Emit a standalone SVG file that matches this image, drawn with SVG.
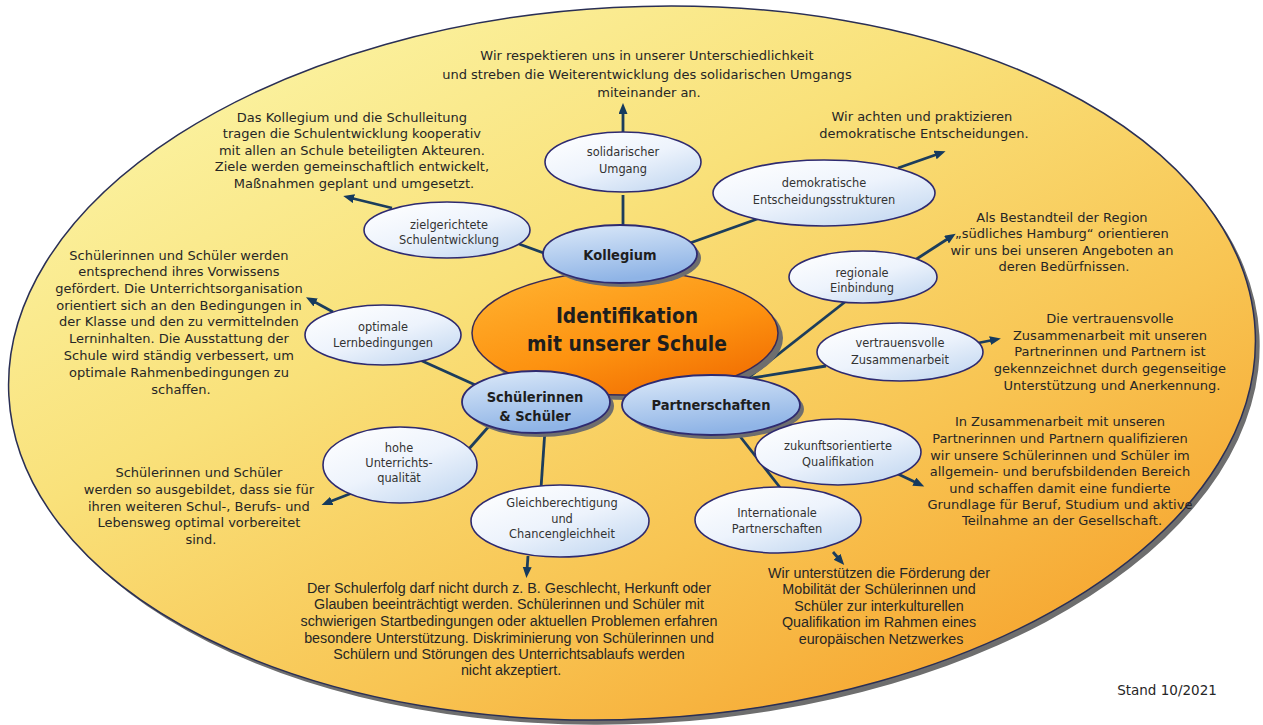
<svg xmlns="http://www.w3.org/2000/svg" width="1263" height="725" viewBox="0 0 1263 725">
  <defs>
    <linearGradient id="gBg" x1="0.15" y1="0.05" x2="0.85" y2="0.95">
      <stop offset="0" stop-color="#FBF3A2"/>
      <stop offset="0.35" stop-color="#F9E17A"/>
      <stop offset="0.7" stop-color="#F8C452"/>
      <stop offset="1" stop-color="#F6A42E"/>
    </linearGradient>
    <linearGradient id="gCore" x1="0.2" y1="0" x2="0.85" y2="1">
      <stop offset="0" stop-color="#FFB02E"/>
      <stop offset="0.55" stop-color="#FD9210"/>
      <stop offset="1" stop-color="#F06A00"/>
    </linearGradient>
    <linearGradient id="gMain" x1="0" y1="0" x2="0.3" y2="1">
      <stop offset="0" stop-color="#DDEAF9"/>
      <stop offset="1" stop-color="#8FB4E6"/>
    </linearGradient>
    <linearGradient id="gSub" x1="0.1" y1="0" x2="0.9" y2="1">
      <stop offset="0" stop-color="#FFFFFF"/>
      <stop offset="0.5" stop-color="#EDF3FC"/>
      <stop offset="1" stop-color="#C0D6F0"/>
    </linearGradient>
    <marker id="arrow" markerUnits="userSpaceOnUse" markerWidth="12" markerHeight="10" refX="3" refY="4.5" orient="auto">
      <path d="M0,0 L11,4.5 L0,9 z" fill="#153A5E"/>
    </marker>
    <style>
      .body { font-family: "DejaVu Sans", sans-serif; font-size: 13px; fill: #262626; text-anchor: middle; }
      .narrow { font-family: "Liberation Sans", Arial, sans-serif; font-size: 15.4px; fill: #262626; text-anchor: middle; }
      .lbl { font-family: "DejaVu Sans", sans-serif; font-size: 11.4px; fill: #333333; text-anchor: middle; }
      .bold { font-family: "DejaVu Sans Condensed", "DejaVu Sans", sans-serif; font-stretch: condensed; font-weight: bold; font-size: 14.5px; fill: #1E1E1E; text-anchor: middle; }
      .title { font-family: "DejaVu Sans Condensed", "DejaVu Sans", sans-serif; font-stretch: condensed; font-weight: bold; font-size: 20.8px; fill: #1E1E1E; text-anchor: middle; }
      .sub { fill: url(#gSub); stroke: #2E2A70; stroke-width: 1.6; }
      .main { fill: url(#gMain); stroke: #2E2A70; stroke-width: 1.8; }
      .shadow { fill: #6E6E6E; }
      .link { stroke: #1C3D5C; stroke-width: 2.8; fill: none; }
      .arr { stroke: #1C3D5C; stroke-width: 2.8; fill: none; marker-end: url(#arrow); }
    </style>
  </defs>

  <!-- backdrop ellipse with drop shadow -->
  <g id="backdrop" transform="rotate(-3 632 363)">
    <ellipse cx="636" cy="368" rx="624" ry="356" class="shadow"/>
    <ellipse cx="632" cy="363" rx="624" ry="356" fill="url(#gBg)" stroke="#2A2F55" stroke-width="1.5"/>
  </g>

  <!-- connectors -->
  <g id="connectors">
    <line class="link" x1="623" y1="195" x2="623" y2="228"/>
    <line class="link" x1="519" y1="244" x2="552" y2="256"/>
    <line class="link" x1="690" y1="243" x2="760" y2="218"/>
    <line class="link" x1="850" y1="298" x2="748" y2="378"/>
    <line class="link" x1="826" y1="366" x2="752" y2="378"/>
    <line class="link" x1="735" y1="430" x2="782" y2="490"/>
    <line class="link" x1="545" y1="430" x2="541" y2="488"/>
    <line class="link" x1="468" y1="450" x2="490" y2="425"/>
    <line class="link" x1="420" y1="360" x2="482" y2="388"/>

    <line class="arr" x1="623" y1="134" x2="623" y2="111"/>
    <line class="arr" x1="392" y1="208" x2="351" y2="198"/>
    <line class="arr" x1="898" y1="168" x2="938" y2="154"/>
    <line class="arr" x1="915" y1="260" x2="949" y2="238"/>
    <line class="arr" x1="978" y1="343" x2="993" y2="340"/>
    <line class="arr" x1="898" y1="474" x2="917" y2="483"/>
    <line class="arr" x1="833" y1="552" x2="839" y2="559"/>
    <line class="arr" x1="528" y1="556" x2="527" y2="570"/>
    <line class="arr" x1="352" y1="493" x2="329" y2="502"/>
    <line class="arr" x1="333" y1="312" x2="313" y2="301"/>
  </g>

  <!-- central node -->
  <g id="core">
    <ellipse cx="630" cy="338" rx="153" ry="62" class="shadow"/>
    <ellipse cx="625" cy="333" rx="153" ry="62" fill="url(#gCore)" stroke="#3A2A55" stroke-width="1.5"/>
    <text class="title"><tspan x="627" y="323">Identifikation</tspan><tspan x="627" y="351">mit unserer Schule</tspan></text>
  </g>

  <!-- primary groups -->
  <g id="kollegium">
    <ellipse cx="624" cy="258" rx="77" ry="29" class="shadow"/>
    <ellipse cx="620" cy="254" rx="77" ry="29" class="main"/>
    <text class="bold" x="620" y="260">Kollegium</text>
  </g>
  <g id="schueler">
    <ellipse cx="540" cy="406" rx="74" ry="31" class="shadow"/>
    <ellipse cx="536" cy="402" rx="74" ry="31" class="main"/>
    <text class="bold"><tspan x="535" y="402">Schülerinnen</tspan><tspan x="535" y="421">&amp; Schüler</tspan></text>
  </g>
  <g id="partner">
    <ellipse cx="715" cy="409" rx="89" ry="30" class="shadow"/>
    <ellipse cx="711" cy="405" rx="89" ry="30" class="main"/>
    <text class="bold" x="711" y="410">Partnerschaften</text>
  </g>

  <!-- secondary topics -->
  <g id="solidarisch">
    <ellipse cx="623" cy="162" rx="78" ry="30" class="sub"/>
    <text class="lbl"><tspan x="623" y="156">solidarischer</tspan><tspan x="623" y="172.5">Umgang</tspan></text>
  </g>
  <g id="zielgerichtet">
    <ellipse cx="447" cy="230" rx="83" ry="28" class="sub"/>
    <text class="lbl"><tspan x="449" y="229">zielgerichtete</tspan><tspan x="449" y="244">Schulentwicklung</tspan></text>
  </g>
  <g id="demokratisch">
    <ellipse cx="824" cy="193" rx="111" ry="33" class="sub"/>
    <text class="lbl"><tspan x="824" y="187">demokratische</tspan><tspan x="824" y="203.5">Entscheidungsstrukturen</tspan></text>
  </g>
  <g id="regional">
    <ellipse cx="863" cy="277" rx="74" ry="26" class="sub"/>
    <text class="lbl"><tspan x="862" y="277">regionale</tspan><tspan x="862" y="291.5">Einbindung</tspan></text>
  </g>
  <g id="vertrauen">
    <ellipse cx="900" cy="352" rx="83" ry="29" class="sub"/>
    <text class="lbl"><tspan x="900" y="347">vertrauensvolle</tspan><tspan x="900" y="363.5">Zusammenarbeit</tspan></text>
  </g>
  <g id="zukunft">
    <ellipse cx="838" cy="452" rx="83" ry="33" class="sub"/>
    <text class="lbl"><tspan x="838" y="450">zukunftsorientierte</tspan><tspan x="838" y="466">Qualifikation</tspan></text>
  </g>
  <g id="international">
    <ellipse cx="778" cy="520" rx="83" ry="33" class="sub"/>
    <text class="lbl"><tspan x="777" y="517">Internationale</tspan><tspan x="777" y="532.5">Partnerschaften</tspan></text>
  </g>
  <g id="gleichberechtigung">
    <ellipse cx="560" cy="521" rx="89" ry="36" class="sub"/>
    <text class="lbl"><tspan x="562" y="507">Gleichberechtigung</tspan><tspan x="562" y="522.5">und</tspan><tspan x="562" y="538">Chancengleichheit</tspan></text>
  </g>
  <g id="unterricht">
    <ellipse cx="400" cy="465" rx="77" ry="38" class="sub"/>
    <text class="lbl"><tspan x="399" y="451.5">hohe</tspan><tspan x="399" y="467">Unterrichts-</tspan><tspan x="399" y="481.5">qualität</tspan></text>
  </g>
  <g id="lernbedingungen">
    <ellipse cx="383" cy="335" rx="78" ry="30" class="sub"/>
    <text class="lbl"><tspan x="383" y="331">optimale</tspan><tspan x="383" y="347">Lernbedingungen</tspan></text>
  </g>

  <!-- explanatory statements -->
  <g id="statements">
    <text class="body">
      <tspan x="649" y="60">Wir respektieren uns in unserer Unterschiedlichkeit</tspan>
      <tspan x="649" y="79">und streben die Weiterentwicklung des solidarischen Umgangs</tspan>
      <tspan x="649" y="97">miteinander an.</tspan>
    </text>
    <text class="body">
      <tspan x="354" y="121.5">Das Kollegium und die Schulleitung</tspan>
      <tspan x="354" y="138">tragen die Schulentwicklung kooperativ</tspan>
      <tspan x="354" y="154.5">mit allen an Schule beteiligten Akteuren.</tspan>
      <tspan x="354" y="171">Ziele werden gemeinschaftlich entwickelt,</tspan>
      <tspan x="354" y="187.5">Maßnahmen geplant und umgesetzt.</tspan>
    </text>
    <text class="body">
      <tspan x="924" y="121">Wir achten und praktizieren</tspan>
      <tspan x="924" y="138">demokratische Entscheidungen.</tspan>
    </text>
    <text class="body">
      <tspan x="1064" y="221.5">Als Bestandteil der Region</tspan>
      <tspan x="1064" y="238">„südliches Hamburg“ orientieren</tspan>
      <tspan x="1064" y="254.5">wir uns bei unseren Angeboten an</tspan>
      <tspan x="1064" y="271">deren Bedürfnissen.</tspan>
    </text>
    <text class="body">
      <tspan x="1112" y="323">Die vertrauensvolle</tspan>
      <tspan x="1112" y="339.5">Zusammenarbeit mit unseren</tspan>
      <tspan x="1112" y="356">Partnerinnen und Partnern ist</tspan>
      <tspan x="1112" y="372.5">gekennzeichnet durch gegenseitige</tspan>
      <tspan x="1112" y="389.5">Unterstützung und Anerkennung.</tspan>
    </text>
    <text class="body">
      <tspan x="1062" y="426">In Zusammenarbeit mit unseren</tspan>
      <tspan x="1062" y="443">Partnerinnen und Partnern qualifizieren</tspan>
      <tspan x="1062" y="459.5">wir unsere Schülerinnen und Schüler im</tspan>
      <tspan x="1062" y="476">allgemein- und berufsbildenden Bereich</tspan>
      <tspan x="1062" y="493">und schaffen damit eine fundierte</tspan>
      <tspan x="1062" y="509">Grundlage für Beruf, Studium und aktive</tspan>
      <tspan x="1062" y="525">Teilnahme an der Gesellschaft.</tspan>
    </text>
    <text class="body">
      <tspan x="181" y="259.5">Schülerinnen und Schüler werden</tspan>
      <tspan x="181" y="276">entsprechend ihres Vorwissens</tspan>
      <tspan x="181" y="293">gefördert. Die Unterrichtsorganisation</tspan>
      <tspan x="181" y="309.5">orientiert sich an den Bedingungen in</tspan>
      <tspan x="181" y="326">der Klasse und den zu vermittelnden</tspan>
      <tspan x="181" y="343">Lerninhalten. Die Ausstattung der</tspan>
      <tspan x="181" y="359.5">Schule wird ständig verbessert, um</tspan>
      <tspan x="181" y="377">optimale Rahmenbedingungen zu</tspan>
      <tspan x="181" y="394">schaffen.</tspan>
    </text>
    <text class="body">
      <tspan x="201" y="477">Schülerinnen und Schüler</tspan>
      <tspan x="201" y="494">werden so ausgebildet, dass sie für</tspan>
      <tspan x="201" y="510.5">ihren weiteren Schul-, Berufs- und</tspan>
      <tspan x="201" y="527">Lebensweg optimal vorbereitet</tspan>
      <tspan x="201" y="544">sind.</tspan>
    </text>
    <!-- narrow-set paragraphs: horizontally compressed Liberation Sans -->
    <g transform="translate(511 0) scale(0.93 1)">
      <text class="narrow">
        <tspan x="0" y="593">Der Schulerfolg darf nicht durch z. B. Geschlecht, Herkunft oder</tspan>
        <tspan x="0" y="609.5">Glauben beeinträchtigt werden. Schülerinnen und Schüler mit</tspan>
        <tspan x="0" y="626">schwierigen Startbedingungen oder aktuellen Problemen erfahren</tspan>
        <tspan x="0" y="643">besondere Unterstützung. Diskriminierung von Schülerinnen und</tspan>
        <tspan x="0" y="659">Schülern und Störungen des Unterrichtsablaufs werden</tspan>
        <tspan x="0" y="675.5">nicht akzeptiert.</tspan>
      </text>
    </g>
    <g transform="translate(881 0) scale(0.93 1)">
      <text class="narrow">
        <tspan x="0" y="578">Wir unterstützen die Förderung der</tspan>
        <tspan x="0" y="594.5">Mobilität der Schülerinnen und</tspan>
        <tspan x="0" y="611">Schüler zur interkulturellen</tspan>
        <tspan x="0" y="627.5">Qualifikation im Rahmen eines</tspan>
        <tspan x="0" y="644">europäischen Netzwerkes</tspan>
      </text>
    </g>
  </g>

  <text id="stand" class="body" x="1167" y="695" style="font-size:13.5px">Stand 10/2021</text>
</svg>
